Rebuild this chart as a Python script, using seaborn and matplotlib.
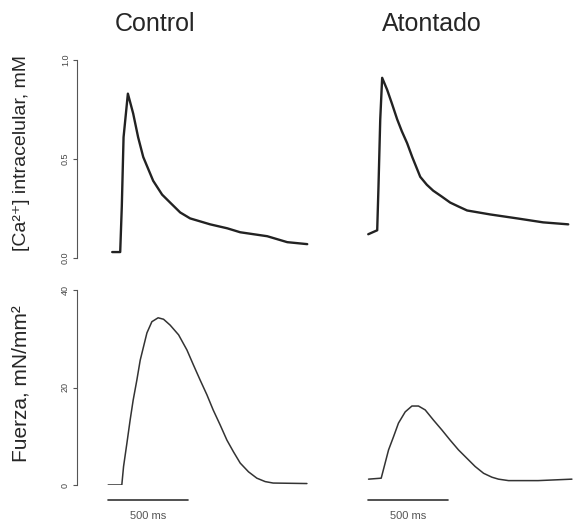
import pandas as pd
import matplotlib.pyplot as plt
import seaborn as sns

t_ca_control = [-50, 0, 10, 21, 48, 81, 112, 144, 175, 206, 262, 312, 375, 437, 562, 669, 750, 919, 1044, 1169]
ca_control = [0.03, 0.03, 0.26, 0.61, 0.83, 0.73, 0.61, 0.51, 0.45, 0.39, 0.32, 0.28, 0.23, 0.20, 0.17, 0.15, 0.13, 0.11, 0.08, 0.07]

t_ca_atontado = [-56, 0, 8, 19, 31, 62, 92, 125, 154, 187, 219, 269, 310, 350, 404, 456, 508, 562, 706, 875, 1037, 1194]
ca_atontado = [0.12, 0.14, 0.36, 0.70, 0.91, 0.85, 0.78, 0.70, 0.64, 0.58, 0.51, 0.41, 0.37, 0.34, 0.31, 0.28, 0.26, 0.24, 0.22, 0.20, 0.18, 0.17]

t_f_control = [-75, 10, 21, 42, 62, 81, 104, 125, 146, 167, 198, 237, 271, 312, 365, 417, 458, 500,
               542, 581, 625, 667, 708, 750, 802, 854, 906, 956, 1167]
f_control = [0.0, 0.0, 3.8, 8.6, 13.3, 17.4, 21.5, 25.6, 28.4, 31.2, 33.5, 34.3, 34.0, 32.8, 30.8, 27.7, 24.6, 21.5,
             18.5, 15.4, 12.3, 9.2, 6.8, 4.5, 2.7, 1.4, 0.7, 0.4, 0.3]

t_f_atontado = [-54, 25, 71, 102, 133, 175, 217, 258, 300, 352, 404, 456, 508, 560, 612, 665, 717, 758, 821, 1006, 1217]
f_atontado = [1.2, 1.4, 7.2, 9.9, 12.7, 15.0, 16.2, 16.2, 15.4, 13.3, 11.3, 9.2, 7.2, 5.5, 3.8, 2.4, 1.6, 1.2, 0.9, 0.9, 1.2]

# inicio de la barra de escala (ms) en cada columna
barra_inicio = {'Control': -75, 'Atontado': -56}

sns.set_theme(style="white")
plt.rcParams['font.family'] = ['Liberation Sans', 'DejaVu Sans']

fig = plt.figure(figsize=(5.74, 5.25), dpi=100)
W, H = 574, 525

def caja(x0, y_top, w, h):
    return [x0 / W, (H - y_top - h) / H, w / W, h / H]

ax_ca_c = fig.add_axes(caja(77, 60, 240, 198))
ax_ca_a = fig.add_axes(caja(334, 60, 240, 198))
ax_f_c = fig.add_axes(caja(77, 290, 240, 195))
ax_f_a = fig.add_axes(caja(334, 290, 240, 195))

color = '#222222'
sns.lineplot(x=t_ca_control, y=ca_control, ax=ax_ca_c, color=color, lw=1.7)
sns.lineplot(x=t_ca_atontado, y=ca_atontado, ax=ax_ca_a, color=color, lw=1.7)
sns.lineplot(x=t_f_control, y=f_control, ax=ax_f_c, color='#333333', lw=1.1)
sns.lineplot(x=t_f_atontado, y=f_atontado, ax=ax_f_a, color='#333333', lw=1.1)

for ax in [ax_ca_c, ax_ca_a]:
    ax.set_ylim(0, 1.0)
for ax in [ax_f_c, ax_f_a]:
    ax.set_ylim(0, 40)
for ax in [ax_ca_c, ax_ca_a, ax_f_c, ax_f_a]:
    ax.set_xlim(-270, 1230)
    ax.set_facecolor('none')
    sns.despine(ax=ax, bottom=True)
    ax.set_xticks([])

# columna izquierda: eje vertical con marcas
for ax, ticks, labels in [(ax_ca_c, [0, 0.5, 1.0], ['0.0', '0.5', '1.0']),
                          (ax_f_c, [0, 20, 40], ['0', '20', '40'])]:
    ax.spines['left'].set_color('#555555')
    ax.spines['left'].set_linewidth(0.8)
    ax.set_yticks(ticks)
    ax.set_yticklabels(labels, rotation=90, va='center', fontsize=6.5, color='#444444')
    ax.tick_params(axis='y', left=True, length=3, width=0.8, color='#555555', pad=2)

# columna derecha sin ejes
for ax in [ax_ca_a, ax_f_a]:
    ax.spines['left'].set_visible(False)
    ax.set_yticks([])

ax_ca_c.set_ylabel('[Ca²⁺] intracelular, mM', fontsize=14)
ax_f_c.set_ylabel('Fuerza, mN/mm²', fontsize=15)
ax_ca_c.yaxis.set_label_coords(-0.195, 0.53)
ax_f_c.yaxis.set_label_coords(-0.195, 0.52)

fig.text(155 / W, 1 - 24 / H, 'Control', ha='center', va='center', fontsize=18)
fig.text(432 / W, 1 - 24 / H, 'Atontado', ha='center', va='center', fontsize=18)

# barras de escala de 500 ms
for ax, nombre in [(ax_f_c, 'Control'), (ax_f_a, 'Atontado')]:
    t0 = barra_inicio[nombre]
    ax.plot([t0, t0 + 500], [-3.1, -3.1], color='#333333', lw=1.2, clip_on=False)
    ax.text(t0 + 250, -6.4, '500 ms', ha='center', va='center', fontsize=8,
            color='#555555', clip_on=False)

fig.savefig('out.png', dpi=100)
